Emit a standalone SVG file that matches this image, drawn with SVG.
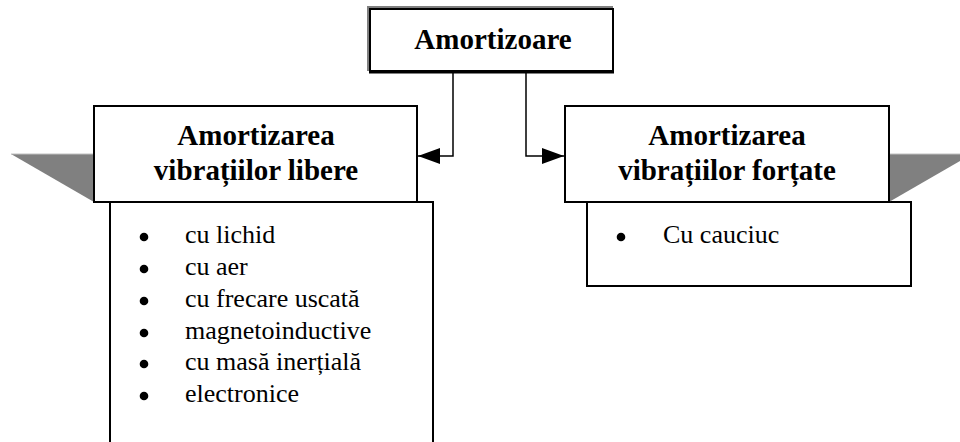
<svg xmlns="http://www.w3.org/2000/svg" width="960" height="442" viewBox="0 0 960 442">
  <style>
    .box { fill: #ffffff; stroke: #000000; stroke-width: 2; }
    .tail { fill: #808080; }
    .tail-edge { stroke: #c0c0c0; stroke-width: 1; }
    .title { font-family: "Liberation Serif", "Times New Roman", serif; font-weight: bold; font-size: 29px; fill: #000000; text-anchor: middle; }
    .item { font-family: "Liberation Serif", "Times New Roman", serif; font-size: 26px; fill: #000000; }
    .bullet { fill: #000000; }
    .wire { fill: none; stroke: #000000; stroke-width: 1.5; }
  </style>
  <defs>
    <marker id="arrow" viewBox="0 0 22 16" refX="22" refY="8" markerWidth="22" markerHeight="16" markerUnits="userSpaceOnUse" orient="auto">
      <path d="M0,0 L22,8 L0,16 Z" fill="#000000"/>
    </marker>
  </defs>

  <!-- root node -->
  <g id="amortizoare">
    <rect x="367" y="6" width="246" height="65" fill="#808080"/>
    <rect class="box" x="370" y="9" width="243" height="62" stroke-width="1.5"/>
    <line x1="369" y1="72" x2="614" y2="72" stroke="#000000" stroke-width="3"/>
    <text class="title" x="493" y="49">Amortizoare</text>
  </g>

  <!-- free vibration damping: list panel, ribbon tail, header -->
  <g id="vibratii-libere">
    <rect class="box" x="110" y="202" width="323" height="260"/>
    <polygon class="tail" points="11,154 94,154 94,202"/>
    <line class="tail-edge" x1="11" y1="154" x2="94" y2="154"/>
    <rect class="box" x="94" y="106" width="323" height="96"/>
    <text class="title" x="256" y="145">Amortizarea</text>
    <text class="title" x="256" y="180">vibrațiilor libere</text>
    <g class="bullets">
      <circle class="bullet" cx="144" cy="237" r="4.3"/>
      <circle class="bullet" cx="144" cy="269" r="4.3"/>
      <circle class="bullet" cx="144" cy="301" r="4.3"/>
      <circle class="bullet" cx="144" cy="333" r="4.3"/>
      <circle class="bullet" cx="144" cy="364" r="4.3"/>
      <circle class="bullet" cx="144" cy="396" r="4.3"/>
    </g>
    <text class="item" x="185" y="243">cu lichid</text>
    <text class="item" x="185" y="275">cu aer</text>
    <text class="item" x="185" y="307">cu frecare uscată</text>
    <text class="item" x="185" y="339">magnetoinductive</text>
    <text class="item" x="185" y="370">cu masă inerțială</text>
    <text class="item" x="185" y="402">electronice</text>
  </g>

  <!-- forced vibration damping: list panel, ribbon tail, header -->
  <g id="vibratii-fortate">
    <rect class="box" x="587" y="202" width="324" height="84"/>
    <polygon class="tail" points="889,154 972,154 889,202"/>
    <line class="tail-edge" x1="889" y1="154" x2="972" y2="154"/>
    <rect class="box" x="565" y="106" width="324" height="96"/>
    <text class="title" x="727" y="145">Amortizarea</text>
    <text class="title" x="727" y="180">vibrațiilor forțate</text>
    <circle class="bullet" cx="621" cy="237" r="4.3"/>
    <text class="item" x="663" y="243">Cu cauciuc</text>
  </g>

  <!-- connectors -->
  <g id="connectors">
    <path class="wire" d="M453,72 V156 H418" marker-end="url(#arrow)"/>
    <path class="wire" d="M526,72 V156 H564" marker-end="url(#arrow)"/>
  </g>
</svg>
